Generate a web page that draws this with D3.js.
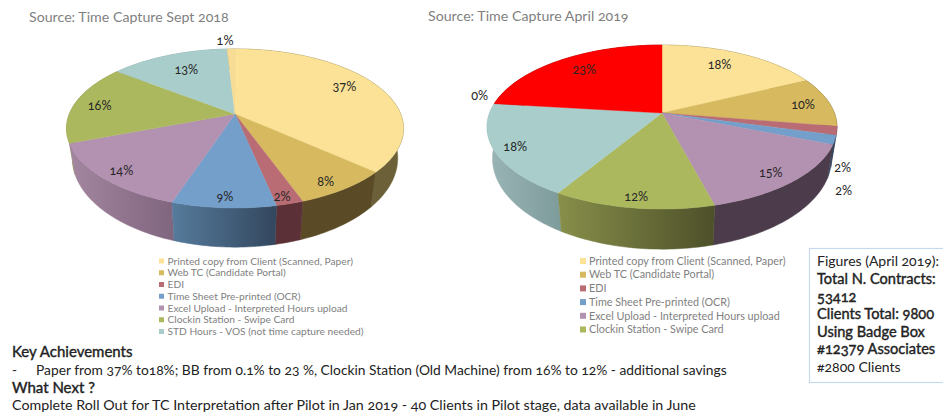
<!DOCTYPE html>
<html><head><meta charset="utf-8">
<script src="https://cdn.jsdelivr.net/npm/d3@7"></script>
<style>
html,body{margin:0;padding:0;background:#fff;overflow:hidden}
text{font-family:Lato,"Open Sans",sans-serif;font-feature-settings:"onum" 1;font-variant-numeric:oldstyle-nums}
</style></head><body><svg id="c" width="943" height="414"></svg>
<script>
// ---- data ----
const legendSept = ["Printed copy from Client (Scanned, Paper)","Web TC (Candidate Portal)","EDI","Time Sheet  Pre-printed (OCR)","Excel Upload - Interpreted Hours upload","Clockin Station - Swipe Card","STD Hours - VOS (not time capture needed)"];
const legendApril = legendSept.slice(0,6);
const valuesSept  = [36.6,7.9,2.2,8.4,14.1,16.3,13.6,0.9];
const labelsSept  = ["37%","8%","2%","9%","14%","16%","13%","1%"];
const valuesApril = [17.8,9.8,1.7,1.8,14.8,12.7,18.3,0,23.1];
const labelsApril = ["18%","10%","2%","2%","15%","12%","18%","0%","23%"];
const titleSept  = "Source: Time Capture Sept 2018";
const titleApril = "Source: Time Capture April 2019";
const notes = [
 {t:"Key Achievements",b:true},
 {t:"Paper from 37% to18%; BB from 0.1% to 23 %, Clockin Station (Old Machine) from 16% to 12% - additional savings",dash:true},
 {t:"What Next ?",b:true},
 {t:"Complete Roll Out for TC Interpretation after Pilot in Jan 2019 - 40 Clients in Pilot stage, data available in June"}];
const figures = [
 {t:"Figures (April 2019):"},{t:"Total N. Contracts:",b:1},{t:"53412",b:1},
 {t:"Clients Total: 9800",b:1},{t:"Using Badge Box",b:1},{t:"#12379 Associates",b:1},{t:"#2800 Clients"}];

// ---- styles and layout ----
const topColors = {
 sept:["#fbe296","#d7ba5f","#b96c74","#749fca","#b391b0","#abb85e","#a8cdca","#f6dc94"],
 april:["#fbe296","#d7ba5f","#b96c74","#749fca","#b391b0","#abb85e","#a8cdca","#a8cdca","#ff0000"]};
const wallColors = {
 sept:[["#6c6038","#6c6038"],["#5a4a26","#5a4a26"],["#5b3036","#5b3036"],["#567b9c","#33475e"],["#a3869f","#80657f"],["#8a9048","#7f8840"],["#7f9c9c","#7f9c9c"],["#6c6038","#6c6038"]],
 april:[["#6c6038","#6c6038"],["#5a4a26","#5a4a26"],["#5b3036","#5b3036"],["#2f4a66","#2f4a66"],["#4c3c4b","#4c3c4b"],["#878f4a","#4d5029"],["#9ab5b6","#7e9b9b"],["#7e9b9b","#7e9b9b"],["#800000","#800000"]]};
const legendColors = ["#fbe296","#d7ba5f","#b96c74","#749fca","#b391b0","#abb85e","#a8cdca"];
const pies = [
 {key:"sept",values:valuesSept,labels:labelsSept,ax:235,ay:114,R:165.7,S:76.9,k:.182,ay2:142,R2:160,S2:86,
  labelR:[.80,.89,.93,.90,.89,.84,.73,1.15],labelShift:[-4,2,1,0,-1,-1,1,-2]},
 {key:"april",values:valuesApril,labels:labelsApril,ax:662,ay:113,R:172.4,S:79.6,k:.171,ay2:143,R2:167,S2:88,
  labelR:[.78,.84,1.12,1.23,.87,.90,.885,1.12,.78],labelShift:[-3.5,1,20.6,24,1.4,0,0,4.6,2]}];

const svg = d3.select("#c");
const defs = svg.append("defs");
const pieGen = d3.pie().sort(null).value(d=>d);
const line = d3.line().x(d=>d[0]).y(d=>d[1]);

function project(p,th,r,lower){
  const sx = d3.scaleLinear().domain([0,1]).range([p.ax,p.ax+(lower?p.R2:p.R)]);
  const sy = d3.scaleLinear().domain([0,1]).range([lower?p.ay2:p.ay,(lower?p.ay2:p.ay)-(lower?p.S2:p.S)]);
  const d = r*Math.cos(th), x = r*Math.sin(th), s = 1/(1+p.k*d);
  return [sx(x*s),sy(d*s)];
}
function arcPts(p,a,b,lower){
  const n = Math.max(2,Math.ceil((b-a)/0.02));
  return d3.range(n+1).map(i=>project(p,a+(b-a)*i/n,1,lower));
}
pies.forEach(p=>{
  const arcs = pieGen(p.values);
  const g = svg.append("g");
  const order = arcs.map((a,i)=>({a,i})).filter(o=>o.a.endAngle>o.a.startAngle)
     .sort((u,v)=>Math.cos((v.a.startAngle+v.a.endAngle)/2)-Math.cos((u.a.startAngle+u.a.endAngle)/2));
  order.forEach(({a,i})=>{
    const up = arcPts(p,a.startAngle,a.endAngle,false), lo = arcPts(p,a.startAngle,a.endAngle,true).reverse();
    const xs = up.concat(lo).map(q=>q[0]);
    const id = "w"+p.key+i;
    const gr = defs.append("linearGradient").attr("id",id).attr("gradientUnits","userSpaceOnUse")
      .attr("x1",d3.min(xs)).attr("x2",d3.max(xs)).attr("y1",0).attr("y2",0);
    gr.append("stop").attr("offset",0).attr("stop-color",wallColors[p.key][i][0]);
    gr.append("stop").attr("offset",1).attr("stop-color",wallColors[p.key][i][1]);
    g.append("path").attr("d",line(up.concat(lo))+"Z").attr("fill",`url(#${id})`).attr("stroke",`url(#${id})`).attr("stroke-width",.5);
  });
  arcs.forEach((a,i)=>{
    if(a.endAngle<=a.startAngle) return;
    const pts = [[p.ax,p.ay]].concat(arcPts(p,a.startAngle,a.endAngle,false));
    g.append("path").attr("d",line(pts)+"Z").attr("fill",topColors[p.key][i])
      .attr("stroke",topColors[p.key][i]).attr("stroke-width",.4);
  });
  arcs.forEach((a,i)=>{
    const mid = (a.startAngle+a.endAngle)/2 + p.labelShift[i]*Math.PI/180;
    const q = project(p,mid,p.labelR[i],false);
    g.append("text").attr("x",q[0]).attr("y",q[1]).attr("dy","0.35em").attr("text-anchor","middle")
      .attr("font-size",12.6).attr("fill","#262626").text(p.labels[i]);
  });
});

svg.append("text").attr("x",29).attr("y",22).attr("font-size",14.2).attr("fill","#7f7f7f").text(titleSept);
svg.append("text").attr("x",428).attr("y",21).attr("font-size",14.2).attr("fill","#7f7f7f").text(titleApril);

function legend(items,sx,tx,y0,dy,size,sw){
  const sc = d3.scalePoint().domain(items).range([y0,y0+dy*(items.length-1)]);
  const g = svg.append("g");
  items.forEach((t,i)=>{
    g.append("rect").attr("x",sx).attr("y",sc(t)-sw/2).attr("width",sw).attr("height",sw).attr("fill",legendColors[i]);
    g.append("text").attr("x",tx).attr("y",sc(t)).attr("dy","0.35em").attr("font-size",size).attr("fill","#7f7f7f").text(t);
  });
}
legend(legendSept,159,167.5,261,11.75,10.2,5);
legend(legendApril,580,589,261,13.7,10.8,6);

function strongText(sel,b){
  return b ? sel.attr("stroke","#222").attr("stroke-width",.4) : sel;
}
const noteY = [352,370,388,405];
const noteSize = [15,13.8,15,14.25];
notes.forEach((n,i)=>{
  const x = n.dash?36:12;
  if(n.dash) svg.append("text").attr("x",12).attr("y",noteY[i]).attr("dy","0.35em").attr("font-size",13.5).attr("fill","#222").text("-");
  strongText(svg.append("text").attr("x",x).attr("y",noteY[i]).attr("dy","0.35em").attr("font-size",noteSize[i])
    .attr("fill","#222").text(n.t),n.b);
});

svg.append("rect").attr("x",809.5).attr("y",248.5).attr("width",140).attr("height",134).attr("fill","#fff").attr("stroke","#c5d9ef").attr("stroke-width",1.2);
const figY = [261,279,297,314,332,349,367];
figures.forEach((f,i)=>{
  strongText(svg.append("text").attr("x",817).attr("y",figY[i]).attr("dy","0.35em").attr("font-size",f.b?14.6:14)
    .attr("fill","#222").text(f.t),f.b);
});
</script></body></html>
